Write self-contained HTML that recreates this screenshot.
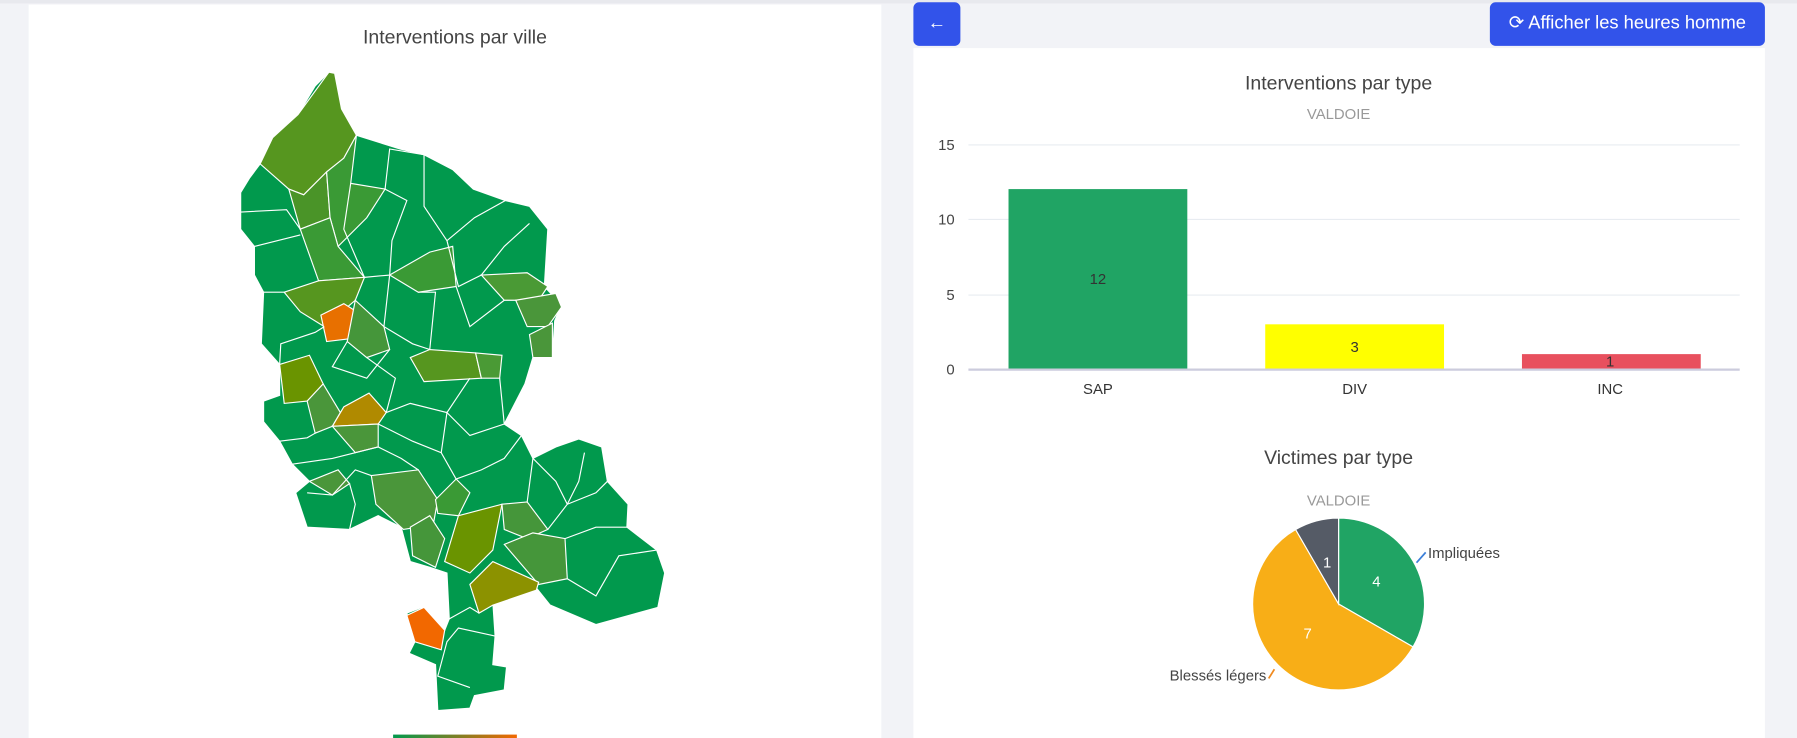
<!DOCTYPE html>
<html><head><meta charset="utf-8"><style>
html,body{margin:0;padding:0;width:1797px;height:738px;overflow:hidden;background:#f2f3f7;font-family:"Liberation Sans",sans-serif}
#w{position:absolute;left:0;top:0;width:1568px;height:644px;transform:scale(1.14605,1.1460);transform-origin:0 0}
.panel{position:absolute;background:#fff}
.btn{position:absolute;background:#3253ea;color:#fff;border-radius:5px;font-size:16px;line-height:38px;text-align:center}
</style></head><body><div id="w">
<div style="position:absolute;left:0;top:0;width:1568px;height:3px;background:#e8e9ee"></div>
<div class="panel" style="left:25px;top:4px;width:744px;height:640px"></div>
<div class="panel" style="left:797px;top:42px;width:743px;height:602px"></div>
<div class="btn" style="left:797px;top:2px;width:41px;height:38px">←</div>
<div class="btn" style="left:1300px;top:2px;width:240px;height:38px">⟳ Afficher les heures homme</div>
<svg width="1568" height="644" style="position:absolute;left:0;top:0" font-family="Liberation Sans, sans-serif">
<text x="397" y="38" text-anchor="middle" font-size="17" fill="#444">Interventions par ville</text>
<polygon fill="#01994d" stroke="#fff" stroke-width="1" points="287,63 292,64 298,95 311,118 349,130 370,135 395,148 413,165 441,175 462,180 478,200 475,250 490,266 484,280 482,312 465,312 458,335 440,370 455,380 465,400 485,390 505,383 525,390 530,420 548,440 547,460 573,480 580,500 574,530 520,545 480,528 468,513 430,525 432,555 430,580 442,582 440,602 414,607 410,618 382,620 380,580 357,570 362,560 355,535 368,530 388,550 392,540 390,500 375,495 358,490 350,460 330,450 305,462 268,460 258,430 270,420 255,405 244,385 230,368 230,350 244,345 244,318 228,300 230,255 222,240 222,215 210,200 210,168 218,155 227,143 238,120 260,100 275,75"/>
<g stroke="#fff" stroke-width="1">
<polygon fill="#56961f" points="227,143 238,120 260,100 287,63 292,64 298,95 311,118 300,138 285,150 265,170 252,165"/>
<polygon fill="#4a9428" points="252,165 265,170 285,150 288,190 262,200"/>
<polygon fill="#3a9a35" points="285,150 300,138 311,118 306,160 336,165 320,190 295,215 288,190"/>
<polygon fill="#3a9a35" points="262,200 288,190 295,215 318,242 278,245"/>
<polygon fill="#56961f" points="248,255 278,245 318,242 310,262 283,285 262,272"/>
<polygon fill="#e87000" points="280,275 300,265 313,273 310,295 285,298"/>
<polygon fill="#45963a" points="310,262 335,285 340,305 320,312 303,298"/>
<polygon fill="#3a9a35" points="340,240 375,220 395,215 398,250 365,255"/>
<polygon fill="#4a9a35" points="420,240 460,238 478,250 470,262 440,262"/>
<polygon fill="#4a963a" points="450,262 485,256 490,268 478,285 460,285"/>
<polygon fill="#4a963a" points="462,292 482,282 482,312 465,312"/>
<polygon fill="#56961f" points="358,312 375,305 415,308 420,330 370,333"/>
<polygon fill="#4a9a35" points="415,308 438,310 436,330 420,330"/>
<polygon fill="#6a9400" points="244,318 270,310 282,335 268,350 248,352"/>
<polygon fill="#4a963a" points="268,350 282,335 297,360 290,372 275,378"/>
<polygon fill="#b08a00" points="290,372 300,355 322,343 337,360 330,370"/>
<polygon fill="#4a963a" points="290,372 330,370 330,390 310,395"/>
<polygon fill="#4a963a" points="324,415 365,410 382,436 378,458 352,462 328,440"/>
<polygon fill="#3a9a35" points="380,436 398,418 410,430 400,450 382,448"/>
<polygon fill="#6a9400" points="388,490 400,450 438,440 430,480 410,500"/>
<polygon fill="#45963a" points="438,440 460,438 478,462 460,470 440,462"/>
<polygon fill="#45963a" points="440,475 465,465 493,470 495,505 470,510"/>
<polygon fill="#8c9200" points="410,510 430,490 470,508 468,515 430,528 418,535"/>
<polygon fill="#45963a" points="358,460 375,450 388,470 380,495 360,485"/>
<polygon fill="#4a963a" points="270,420 295,410 305,422 290,432"/>
<polygon fill="#f26800" points="355,537 370,530 388,550 385,567 362,560"/>
<polyline fill="none" points="336,165 340,130 370,135 370,180 390,210 414,190 441,175"/>
<polyline fill="none" points="306,160 300,200 318,242 340,240 342,210 355,175 336,165"/>
<polyline fill="none" points="210,185 250,183 262,200"/>
<polyline fill="none" points="222,215 262,205"/>
<polyline fill="none" points="230,255 248,255"/>
<polyline fill="none" points="390,210 400,250 420,240 440,215 462,195"/>
<polyline fill="none" points="398,250 410,285 440,262"/>
<polyline fill="none" points="340,240 335,285 360,300 375,305 380,255 365,255"/>
<polyline fill="none" points="244,318 245,300 275,290 283,285"/>
<polyline fill="none" points="303,298 290,320 320,330 340,305"/>
<polyline fill="none" points="320,312 345,330 337,360 358,352 390,360 410,330"/>
<polyline fill="none" points="436,330 440,370 410,380 390,360 385,395"/>
<polyline fill="none" points="330,370 360,385 385,395 398,418 420,410 440,400 455,380"/>
<polyline fill="none" points="244,385 268,382 275,378"/>
<polyline fill="none" points="255,405 290,400 310,395 330,390"/>
<polyline fill="none" points="305,422 310,440 305,462"/>
<polyline fill="none" points="324,415 310,410 290,432 268,430"/>
<polyline fill="none" points="365,410 350,400 330,390"/>
<polyline fill="none" points="460,438 465,400 485,420 495,440 478,462"/>
<polyline fill="none" points="495,440 520,430 530,420"/>
<polyline fill="none" points="493,470 520,460 547,460"/>
<polyline fill="none" points="495,505 520,520 540,485 573,480"/>
<polyline fill="none" points="510,395 505,420 495,440"/>
<polyline fill="none" points="432,555 400,548 390,560 382,590 410,600"/>
<polyline fill="none" points="392,540 410,530 418,535"/>
</g>
<defs><linearGradient id="lg"><stop offset="0" stop-color="#01994d"/><stop offset="1" stop-color="#f26800"/></linearGradient></defs>
<rect x="343" y="641" width="108" height="3" fill="url(#lg)"/>
<text x="1168" y="78" text-anchor="middle" font-size="17" fill="#444">Interventions par type</text>
<text x="1168" y="104" text-anchor="middle" font-size="13" fill="#999">VALDOIE</text>
<g stroke="#e8ecf1" stroke-width="1"><line x1="845" x2="1518" y1="126.5" y2="126.5"/><line x1="845" x2="1518" y1="191.5" y2="191.5"/><line x1="845" x2="1518" y1="257.5" y2="257.5"/></g>
<g font-size="13" fill="#444" text-anchor="end"><text x="833" y="131">15</text><text x="833" y="196">10</text><text x="833" y="262">5</text><text x="833" y="327">0</text></g>
<rect x="880" y="165" width="156" height="157" fill="#20a464"/>
<rect x="1104" y="283" width="156" height="39" fill="#ffff00"/>
<rect x="1328" y="309" width="156" height="13" fill="#e8505e"/>
<line x1="845" x2="1518" y1="322.5" y2="322.5" stroke="#ccd" stroke-width="2"/>
<g font-size="13" fill="#333" text-anchor="middle"><text x="958" y="248">12</text><text x="1182" y="307">3</text><text x="1405" y="320">1</text>
<text x="958" y="344">SAP</text><text x="1182" y="344">DIV</text><text x="1405" y="344">INC</text></g>
<text x="1168" y="405" text-anchor="middle" font-size="17" fill="#444">Victimes par type</text>
<text x="1168" y="441" text-anchor="middle" font-size="13" fill="#999">VALDOIE</text>
<g stroke="#fff" stroke-width="1">
<path d="M1168,527 L1168,452 A75,75 0 0 1 1232.95,564.5 Z" fill="#20a464"/>
<path d="M1168,527 L1232.95,564.5 A75,75 0 1 1 1130.5,462.05 Z" fill="#f8ae17"/>
<path d="M1168,527 L1130.5,462.05 A75,75 0 0 1 1168,452 Z" fill="#555b66"/>
</g>
<g font-size="13" fill="#fff" text-anchor="middle"><text x="1201" y="512">4</text><text x="1141" y="557">7</text><text x="1158" y="495">1</text></g>
<polyline points="1236,491 1244,482" stroke="#3b7fd8" fill="none" stroke-width="1.5"/>
<text x="1246" y="487" font-size="13" fill="#444">Impliquées</text>
<polyline points="1112,584 1107,592" stroke="#f08a20" fill="none" stroke-width="1.5"/>
<text x="1105" y="594" font-size="13" fill="#444" text-anchor="end">Blessés légers</text>
</svg>
</div></body></html>
